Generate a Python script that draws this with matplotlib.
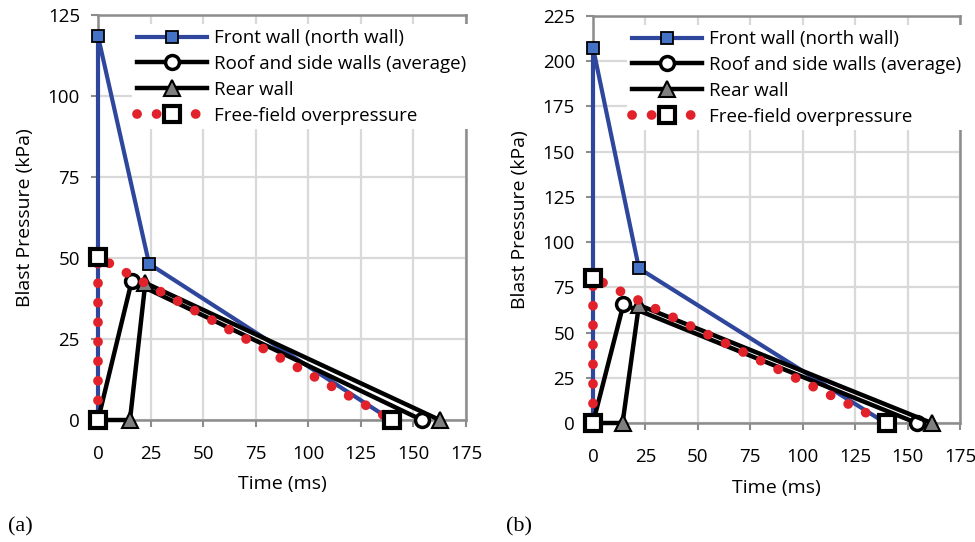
import matplotlib
matplotlib.use("Agg")
import matplotlib.pyplot as plt
from matplotlib.legend_handler import HandlerTuple

plt.rcParams['font.family'] = ['Open Sans', 'DejaVu Sans']

# Panel (a)
a_front_t = [0, 0, 24.3, 139.5]
a_front_p = [0, 118.5, 48.2, 0]
a_roof_t = [0, 16.0, 154.0]
a_roof_p = [0, 42.8, 0]
a_rear_t = [0, 15.2, 22.5, 162.5]
a_rear_p = [0, 0, 42.3, 0]
a_free_t = [0, 0, 140]
a_free_p = [0, 50.3, 0]

# Panel (b)
b_front_t = [0, 0, 21.9, 139.5]
b_front_p = [0, 207.5, 85.5, 0]
b_roof_t = [0, 14.5, 154.3]
b_roof_p = [0, 65.6, 0]
b_rear_t = [0, 14.1, 21.9, 161.5]
b_rear_p = [0, 0, 65.2, 0]
b_free_t = [0, 0, 140]
b_free_p = [0, 80.3, 0]

x_ticks = [0, 25, 50, 75, 100, 125, 150, 175]
a_y_ticks = [0, 25, 50, 75, 100, 125]
b_y_ticks = [0, 25, 50, 75, 100, 125, 150, 175, 200, 225]

labels = ["Front wall (north wall)", "Roof and side walls (average)",
          "Rear wall", "Free-field overpressure"]

BLUE = '#2E479C'
BLUEFILL = '#4472C4'
RED = '#E1222A'
GRID = '#D9D9D9'
SPINE = '#8C8C8C'
FS = 13.5

fig = plt.figure(figsize=(9.75, 5.42), dpi=100)
ax_a = fig.add_axes([98/975, 122/542, 368/975, 405/542])
ax_b = fig.add_axes([593/975, 119/542, 367/975, 407/542])


def draw(ax, front, roof, rear, free, yticks):
    ymax = yticks[-1]
    h1, = ax.plot(*front, color=BLUE, lw=3.0, marker='s', ms=8,
                  mfc=BLUEFILL, mec='black', mew=1.3, clip_on=False, zorder=3)
    h2, = ax.plot(*roof, color='black', lw=3.2, marker='o', ms=10,
                  mfc='white', mec='black', mew=2.5, clip_on=False, zorder=4)
    h3, = ax.plot(*rear, color='black', lw=3.2, marker='^', ms=12,
                  mfc='#7F7F7F', mec='black', mew=1.5, clip_on=False, zorder=5)
    # free-field dotted line and square markers
    hl, = ax.plot(*free, color=RED, lw=7, ls=(0, (0.01, 2.0)),
                  dash_capstyle='round', solid_capstyle='round',
                  clip_on=False, zorder=6)
    hm, = ax.plot(*free, ls='none', marker='s', ms=11, mfc='white',
                  mec='black', mew=3, clip_on=False, zorder=7)
    ax.set_xlim(0, 175)
    ax.set_ylim(0, ymax)
    ax.set_xticks(x_ticks)
    ax.set_yticks(yticks)
    ax.grid(True, color=GRID, lw=1.6, zorder=0)
    ax.set_axisbelow(True)
    for s in ax.spines.values():
        s.set_color(SPINE)
        s.set_linewidth(1.8)
    ax.tick_params(axis='both', colors=SPINE, length=5, width=1.5,
                   labelcolor='black', labelsize=FS)
    ax.tick_params(axis='y', pad=8)
    ax.tick_params(axis='x', pad=13)
    ax.set_xlabel("Time (ms)", fontsize=FS + 0.5, labelpad=9)
    ax.set_ylabel("Blast Pressure (kPa)", fontsize=FS + 0.5, labelpad=10)
    leg = ax.legend([h1, h2, h3, (hl, hm)], labels, loc='upper left',
                    bbox_to_anchor=(0.068, 1.0), handlelength=3.75,
                    handletextpad=0.37, labelspacing=0.42, fontsize=FS,
                    frameon=True, fancybox=False, borderpad=0.25,
                    borderaxespad=0.5,
                    handler_map={tuple: HandlerTuple(ndivide=1, pad=0)})
    leg.get_frame().set_edgecolor('none')
    leg.get_frame().set_facecolor('white')
    leg.get_frame().set_alpha(1)
    leg.set_zorder(10)


draw(ax_a, (a_front_t, a_front_p), (a_roof_t, a_roof_p),
     (a_rear_t, a_rear_p), (a_free_t, a_free_p), a_y_ticks)
draw(ax_b, (b_front_t, b_front_p), (b_roof_t, b_roof_p),
     (b_rear_t, b_rear_p), (b_free_t, b_free_p), b_y_ticks)

fig.text(8/975, 1 - 527/542, "(a)", family='Liberation Serif', fontsize=16,
         va='center', ha='left')
fig.text(506/975, 1 - 527/542, "(b)", family='Liberation Serif', fontsize=16,
         va='center', ha='left')

fig.savefig("out.png", dpi=100)
